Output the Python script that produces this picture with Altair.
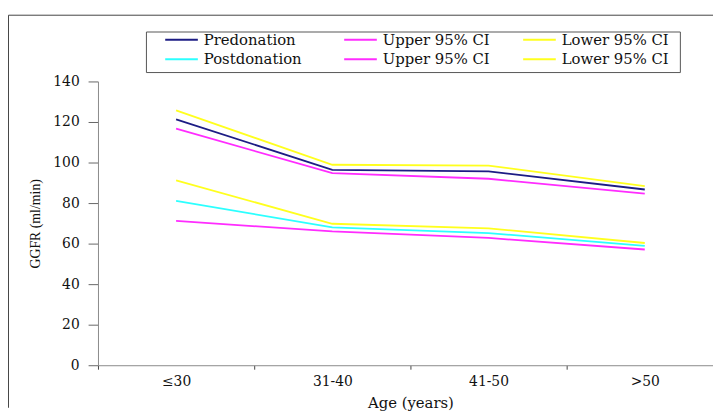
import altair as alt
import pandas as pd

ages = ["≤30", "31-40", "41-50", ">50"]
series = ["Predonation", "Upper 95% CI ", "Lower 95% CI ",
          "Postdonation", "Upper 95% CI  ", "Lower 95% CI  "]
pre_mean = [121.3, 96.4, 95.6, 86.7]
pre_upper = [116.7, 94.8, 92.0, 84.7]
pre_lower = [125.7, 98.9, 98.5, 88.4]
post_mean = [81.1, 68.0, 65.2, 58.9]
post_upper = [71.2, 66.0, 62.8, 57.1]
post_lower = [91.2, 69.8, 67.5, 60.3]
colors = ["#1c1c84", "#ff2cff", "#ffff1e", "#2cffff", "#ff2cff", "#ffff1e"]
y_ticks = [0, 20, 40, 60, 80, 100, 120, 140]

SERIF_W = "'DejaVu Serif', serif"
SERIF_N = "'Liberation Serif', serif"

rows = []
for name, vals in zip(series, [pre_mean, pre_upper, pre_lower, post_mean, post_upper, post_lower]):
    for a, v in zip(ages, vals):
        rows.append({"age": a, "series": name, "gfr": v})
df = pd.DataFrame(rows)

lines = alt.Chart(df).mark_line(strokeWidth=1.8).encode(
    x=alt.X("age:N", sort=ages, bandPosition=0.5,
            scale=alt.Scale(type="band", range=[0, 632], paddingInner=0, paddingOuter=0),
            axis=alt.Axis(title="Age (years)", labelAngle=0, tickBand="extent",
                          domainColor="#8a8a8a", tickColor="#444", tickSize=4,
                          labelFont=SERIF_W, labelFontSize=14, labelColor="#111",
                          labelPadding=5, titleFont=SERIF_W, titleFontSize=15,
                          titleFontWeight="normal", titleColor="#111", titlePadding=8)),
    y=alt.Y("gfr:Q", scale=alt.Scale(domain=[0, 140], nice=False),
            axis=alt.Axis(title="GGFR (ml/min)", values=y_ticks, grid=False,
                          domainColor="#8a8a8a", tickColor="#666", tickSize=10,
                          labelFont=SERIF_W, labelFontSize=14, labelColor="#111",
                          labelPadding=9, titleFont=SERIF_N, titleFontSize=14,
                          titleFontWeight="normal", titleColor="#111", titlePadding=10)),
    color=alt.Color("series:N", sort=series,
                    scale=alt.Scale(domain=series, range=colors),
                    legend=alt.Legend(title=None, orient="none", legendX=77, legendY=-50,
                                      direction="horizontal",
                                      columns=3, symbolType="M-3,0H3", symbolSize=121,
                                      symbolStrokeWidth=2, labelFont=SERIF_W,
                                      labelFontSize=15, labelColor="#111", labelOffset=15,
                                      columnPadding=29, rowPadding=4, gridAlign="all",
                                      padding=0, labelExpr="trim(datum.label)")),
    detail="series:N",
)

dummy = alt.Data(values=[{"k": 1}])
legend_box = alt.Chart(dummy).mark_rect(fill="white", stroke="#555", strokeWidth=1).encode(
    x=alt.value(49), x2=alt.value(589), y=alt.value(-50), y2=alt.value(-9))
frame_left = alt.Chart(dummy).mark_rule(color="#444", strokeWidth=1).encode(
    x=alt.value(-90.5), y=alt.value(-67), y2=alt.value(330))
frame_top = alt.Chart(dummy).mark_rule(color="#444", strokeWidth=1).encode(
    x=alt.value(-90.5), x2=alt.value(630), y=alt.value(-67))

chart = alt.layer(frame_left, frame_top, legend_box, lines).properties(
    width=622, height=287,
    autosize=alt.AutoSizeParams(type="none"),
    padding={"left": 91, "top": 72, "right": 0, "bottom": 44},
    background="white",
).configure_view(stroke=None)

chart.save("out.html", embed_options={"renderer": "svg", "actions": False})
